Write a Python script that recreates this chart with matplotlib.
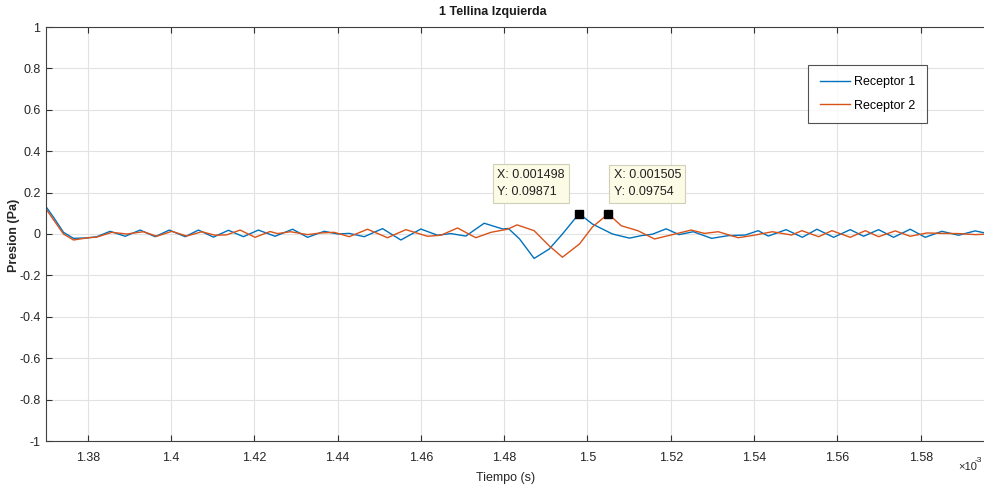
import matplotlib
matplotlib.use("Agg")
import matplotlib.pyplot as plt
from matplotlib.ticker import FixedLocator, FuncFormatter

plt.rcParams['font.family'] = ['Liberation Sans Narrow', 'Liberation Sans', 'DejaVu Sans']

# time in units of 1e-3 s
t1 = [1.3700, 1.3718, 1.3742, 1.3766, 1.3798, 1.3822, 1.3854, 1.3890, 1.3926, 1.3962,
      1.3996, 1.4034, 1.4066, 1.4102, 1.4138, 1.4174, 1.4210, 1.4250, 1.4292, 1.4328,
      1.4368, 1.4400, 1.4428, 1.4464, 1.4508, 1.4552, 1.4600, 1.4640, 1.4672, 1.4708,
      1.4752, 1.4784, 1.4797, 1.4810, 1.4837, 1.4872, 1.4908, 1.4940,
      1.4980, 1.5012, 1.5060, 1.5101, 1.5129, 1.5156, 1.5189, 1.5220, 1.5254, 1.5298,
      1.5338, 1.5379, 1.5410, 1.5434, 1.5477, 1.5516, 1.5551, 1.5591, 1.5631, 1.5663,
      1.5699, 1.5735, 1.5775, 1.5811, 1.5851, 1.5891, 1.5931, 1.5966]
p1 = [0.132, 0.081, 0.008, -0.021, -0.019, -0.013, 0.013, -0.011, 0.019, -0.013,
      0.019, -0.013, 0.019, -0.015, 0.018, -0.013, 0.019, -0.011, 0.023, -0.016,
      0.013, 0.000, 0.003, -0.013, 0.026, -0.029, 0.024, -0.006, 0.002, -0.010,
      0.052, 0.032, 0.024, 0.027, -0.024, -0.118, -0.073, 0.000,
      0.09871, 0.048, 0.000, -0.020, -0.008, -0.001, 0.025, -0.003, 0.011, -0.021,
      -0.008, -0.005, 0.016, -0.010, 0.021, -0.016, 0.023, -0.016, 0.021, -0.011,
      0.021, -0.016, 0.023, -0.016, 0.013, -0.006, 0.015, 0.000]

t2 = [1.3700, 1.3742, 1.3766, 1.3798, 1.3822, 1.3858, 1.3894, 1.3934, 1.3966, 1.4002,
      1.4038, 1.4074, 1.4106, 1.4134, 1.4166, 1.4202, 1.4238, 1.4256, 1.4287, 1.4328,
      1.4359, 1.4392, 1.4428, 1.4472, 1.4520, 1.4564, 1.4616, 1.4648, 1.4688, 1.4732,
      1.4768, 1.4808, 1.4831, 1.4872, 1.4908, 1.4940, 1.4981, 1.5012, 1.5050, 1.5081,
      1.5121, 1.5161,
      1.5194, 1.5249, 1.5281, 1.5314, 1.5362, 1.5400, 1.5444, 1.5490, 1.5515, 1.5555,
      1.5587, 1.5631, 1.5667, 1.5699, 1.5739, 1.5775, 1.5815, 1.5851, 1.5891, 1.5931,
      1.5966]
p2 = [0.121, 0.000, -0.029, -0.019, -0.015, 0.008, 0.000, 0.011, -0.011, 0.013,
      -0.010, 0.011, -0.006, -0.004, 0.019, -0.016, 0.012, 0.002, 0.011, -0.003,
      0.005, 0.008, -0.013, 0.023, -0.018, 0.021, -0.011, -0.006, 0.029, -0.018,
      0.008, 0.023, 0.044, 0.016, -0.057, -0.112, -0.048, 0.034, 0.09754, 0.040,
      0.016, -0.024,
      -0.008, 0.019, 0.003, 0.011, -0.018, -0.006, 0.011, -0.005, 0.016, -0.013,
      0.016, -0.016, 0.016, -0.013, 0.015, -0.011, 0.005, 0.003, 0.002, -0.003,
      0.000]

labels = ['Receptor 1', 'Receptor 2']
colors = ['#0072BD', '#D95319']
xticks = [1.38, 1.40, 1.42, 1.44, 1.46, 1.48, 1.50, 1.52, 1.54, 1.56, 1.58]
yticks = [-1, -0.8, -0.6, -0.4, -0.2, 0, 0.2, 0.4, 0.6, 0.8, 1]
tips = [(1.498, 0.09871, 'X: 0.001498\nY: 0.09871'),
        (1.505, 0.09754, 'X: 0.001505\nY: 0.09754')]

W, H = 984, 488
PX_PER_UNIT = 4165.0          # pixels per 1e-3 s
LEFT_PX, RIGHT_PX = 46, 990   # axes extends slightly past the image edge
fig = plt.figure(figsize=(W / 100, H / 100), dpi=100)
ax = fig.add_axes([LEFT_PX / W, 1 - 441 / H, (RIGHT_PX - LEFT_PX) / W, (441 - 27) / H])

scale = 1e-3
ax.plot([t * scale for t in t1], p1, color=colors[0], lw=1.0, label=labels[0])
ax.plot([t * scale for t in t2], p2, color=colors[1], lw=1.0, label=labels[1])

x0 = 1.3700
ax.set_xlim(x0 * scale, (x0 + (RIGHT_PX - LEFT_PX) / PX_PER_UNIT) * scale)
ax.set_ylim(-1, 1)
ax.xaxis.set_major_locator(FixedLocator([x * scale for x in xticks]))
ax.xaxis.set_major_formatter(FuncFormatter(lambda v, p: '%g' % round(v / scale, 4)))
ax.yaxis.set_major_locator(FixedLocator(yticks))
ax.yaxis.set_major_formatter(FuncFormatter(lambda v, p: '%g' % round(v, 2)))

ax.grid(True, color='#e2e2e2', lw=0.8)
ax.set_axisbelow(True)
ax.tick_params(direction='in', length=4, width=0.8, color='#303030', labelcolor='#262626',
               labelsize=9, top=True, right=True)
ax.tick_params(axis='x', pad=8)
ax.tick_params(axis='y', pad=4)
for s in ax.spines.values():
    s.set_color('#404040')
    s.set_linewidth(0.8)

# data tips
for (tx, ty, txt), off, ha in zip(tips, [(-10.4, 11.1), (3.9, 11.1)], ['right', 'left']):
    ax.plot([tx * scale], [ty], marker='s', ms=6, color='black', ls='none', zorder=5)
    ax.annotate(txt, xy=(tx * scale, ty), xytext=off, textcoords='offset points',
                ha=ha, va='bottom', multialignment='left', fontsize=9, linespacing=1.6,
                color='#202020',
                bbox=dict(boxstyle='square,pad=0.35', fc='#fbfbe6', ec='#d0d0b8', lw=0.8),
                zorder=6)

leg = ax.legend(loc='upper right',
                bbox_to_anchor=((927 - LEFT_PX) / (RIGHT_PX - LEFT_PX), (441 - 65) / (441 - 27)),
                fontsize=9, frameon=True, fancybox=False, borderaxespad=0,
                borderpad=0.9, handlelength=2.4, handletextpad=0.4, labelspacing=0.9)
leg.get_frame().set_edgecolor('#262626')
leg.get_frame().set_linewidth(0.8)

fig.text(493 / W, 1 - 12 / H, '1 Tellina Izquierda', ha='center', va='center',
         fontsize=9, fontweight='bold', color='#1a1a1a')
fig.text(506 / W, 1 - 478 / H, 'Tiempo (s)', ha='center', va='center', fontsize=9, color='#262626')
fig.text(14 / W, 1 - 235 / H, 'Presion (Pa)', ha='center', va='center', rotation=90,
         fontsize=9, fontweight='bold', color='#262626')
fig.text(958 / W, 1 - 467 / H, '\u00d710', ha='left', va='center', fontsize=8, color='#262626')
fig.text(975 / W, 1 - 461 / H, '-3', ha='left', va='center', fontsize=6, color='#262626')

fig.savefig('out.png', dpi=100)
